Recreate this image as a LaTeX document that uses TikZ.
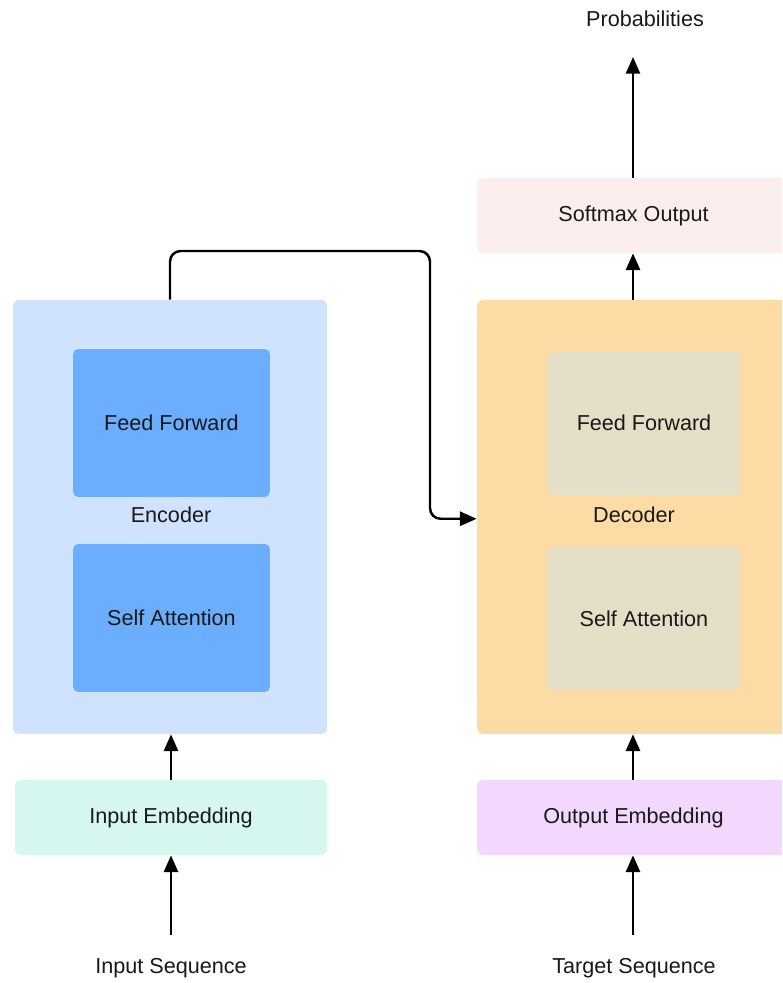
\documentclass[tikz,border=0pt]{standalone}
\usepackage{fontspec}
\setmainfont{Liberation Sans}
\usepackage{tikz}
\usetikzlibrary{arrows.meta}
\usetikzlibrary{positioning}

\definecolor{encback}{RGB}{207,226,254}
\definecolor{encblock}{RGB}{107,174,255}
\definecolor{inemb}{RGB}{213,247,240}
\definecolor{decback}{RGB}{253,219,164}
\definecolor{decblock}{RGB}{230,223,199}
\definecolor{outemb}{RGB}{241,216,252}
\definecolor{softback}{RGB}{253,238,238}
\definecolor{txt}{RGB}{25,25,25}

\tikzset{
    box/.style={rectangle, rounded corners=3pt, draw=none, text=txt,
        font=\fontsize{12.3}{14}\selectfont},
    embbox/.style={box, minimum width=6.26cm, minimum height=1.5cm},
    lbl/.style={text=txt, font=\fontsize{12.3}{14}\selectfont},
    arr/.style={line width=1.4pt, -{Triangle[length=9.5pt,width=8pt]}}
}

\begin{document}
\begin{tikzpicture}[x=0.02cm,y=-0.02cm]
        \useasboundingbox (0,0) rectangle (782,983);
        \clip (0,0) rectangle (782,983);

        % encoder side
        \node[box, fill=encback, minimum width=6.28cm, minimum height=8.68cm] (encoder) at (170,517) {};
        \node[box, fill=encblock, minimum width=3.94cm, minimum height=2.96cm] (encff) at (171.5,423) {Feed Forward};
        \node[box, fill=encblock, minimum width=3.94cm, minimum height=2.96cm] (encsa) at (171.5,618) {Self Attention};
        \node[lbl] (enclbl) at (171,515) {Encoder};
        \node[embbox, fill=inemb, minimum width=6.24cm] (inputemb) at (171,817.5) {Input Embedding};
        \node[lbl] (inputseq) at (171,968) {Input Sequence};

        % decoder side
        \node[box, fill=decback, minimum width=6.26cm, minimum height=8.68cm] (decoder) at (633.5,517) {};
        \node[box, fill=decblock, minimum width=3.84cm, minimum height=2.88cm] (decff) at (644,423) {Feed Forward};
        \node[box, fill=decblock, minimum width=3.84cm, minimum height=2.88cm] (decsa) at (644,618.5) {Self Attention};
        \node[lbl] (declbl) at (634,515) {Decoder};
        \node[embbox, fill=outemb] (outputemb) at (633.5,817.5) {Output Embedding};
        \node[lbl] (targetseq) at (634,968) {Target Sequence};
        \node[embbox, fill=softback] (softmax) at (633.5,215.5) {Softmax Output};
        \node[lbl] (probs) at (645,19) {Probabilities};

        % arrows
        \coordinate (inseqtop) at (171,935);
        \coordinate (tgtseqtop) at (633,935);
        \coordinate (probtip) at (633,57);
        \coordinate (bend) at (430,251);
        \draw[arr] (inseqtop) -- (inseqtop |- inputemb.south);
        \draw[arr] (inputemb.north) -- (inputemb.north |- encoder.south);
        \draw[arr] (tgtseqtop) -- (tgtseqtop |- outputemb.south);
        \draw[arr] (tgtseqtop |- outputemb.north) -- (tgtseqtop |- decoder.south);
        \draw[arr] (tgtseqtop |- decoder.north) -- (tgtseqtop |- softmax.south);
        \draw[arr] (tgtseqtop |- softmax.north) -- (probtip);
        \draw[arr, rounded corners=6pt] (encoder.north) |- (bend) |- ([yshift=-1]decoder.west);
    \end{tikzpicture}
\end{document}
